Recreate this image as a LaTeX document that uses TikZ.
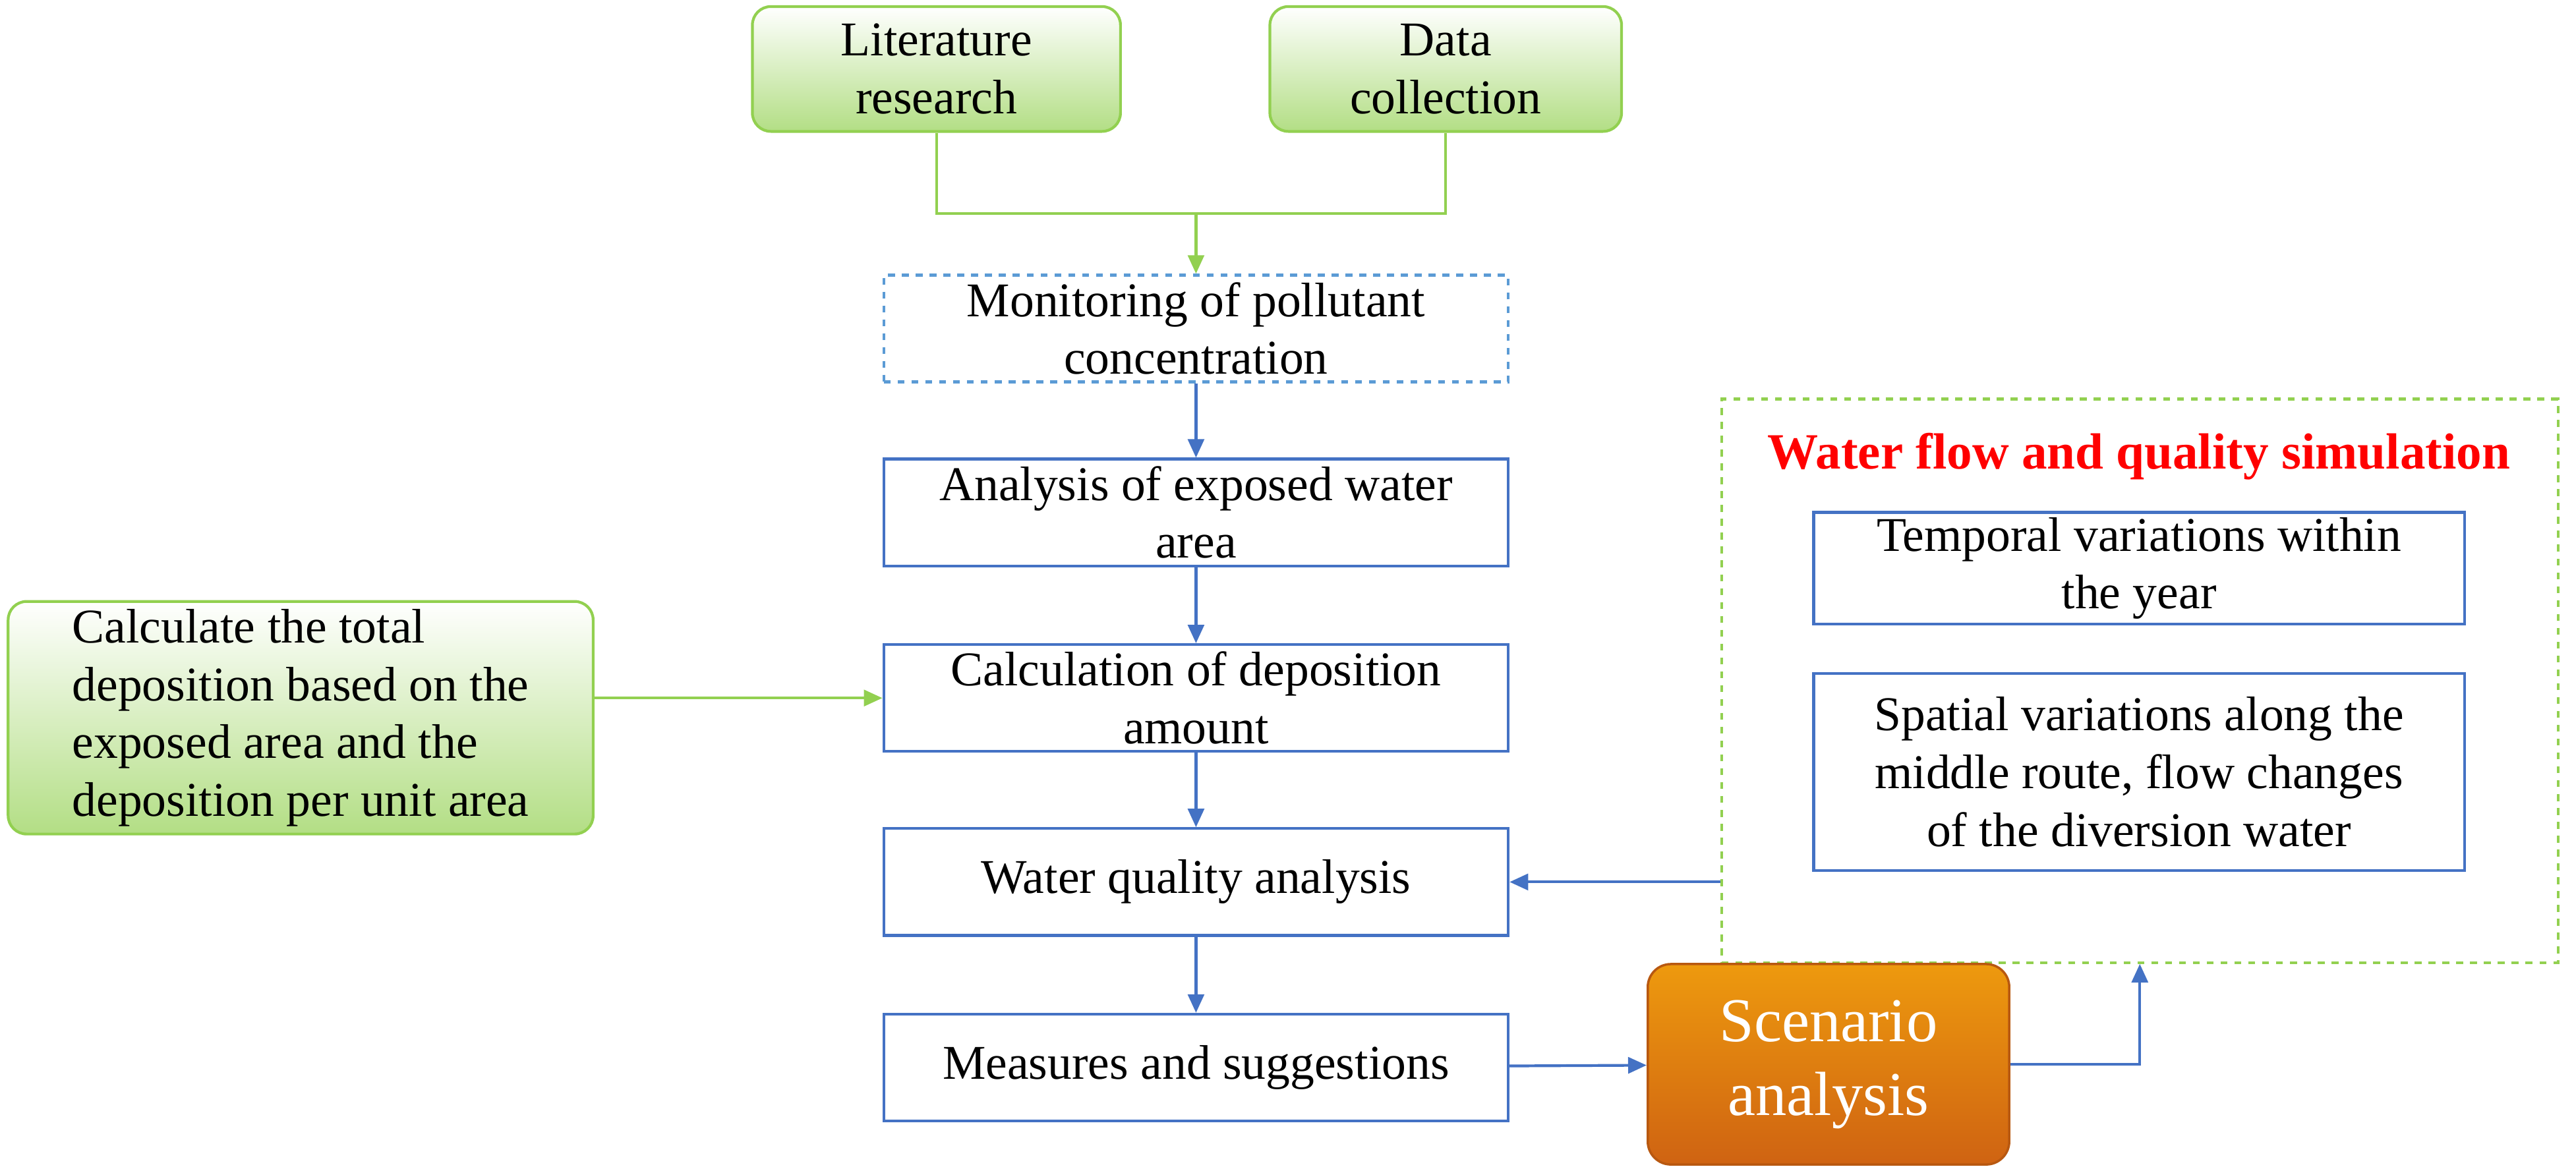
\documentclass[tikz,border=0pt]{standalone}
\usepackage{fontspec}
\setmainfont{Liberation Serif}
\usetikzlibrary{arrows.meta}
\definecolor{boxblue}{RGB}{68,114,196}
\definecolor{dashblue}{RGB}{91,155,213}
\definecolor{lgreen}{RGB}{146,208,80}
\definecolor{orangec}{RGB}{230,110,20}
\begin{document}
\begin{tikzpicture}[x=0.025cm, y=-0.025cm,
    font=\fontsize{21}{25}\selectfont,
    stage/.style={rectangle, draw=boxblue, line width=1.2pt, fill=white, minimum width=9.5cm, minimum height=1.625cm, align=center, inner sep=2pt},
    source/.style={rectangle, rounded corners=8pt, draw=lgreen, line width=1.2pt, top color=white, bottom color=lgreen!70, align=center},
    sim/.style={rectangle, draw=boxblue, line width=1.2pt, minimum width=9.9cm, align=center, inner sep=2pt},
    arrow/.style={-{Triangle[length=8pt,width=7pt]}, line width=1.2pt, boxblue},
    garrow/.style={-{Triangle[length=8pt,width=7pt]}, line width=1.2pt, lgreen}
    ]
    \useasboundingbox (0,0) rectangle (1568,714);

    % sources
    \node (lit) [source, minimum width=5.6cm, minimum height=1.9cm] at (570,42) {Literature\\research};
    \node (data) [source, minimum width=5.35cm, minimum height=1.9cm] at (880,42) {Data\\collection};
    \node (total) [source, minimum width=8.9cm, minimum height=3.5cm, align=left] at (183,437)
        {Calculate the total\\deposition based on the\\exposed area and the\\deposition per unit area};

    % main chain
    \node (monitor) [stage, dashed, draw=dashblue] at (728,200) {Monitoring of pollutant\\concentration};
    \node (exposed) [stage] at (728,312) {Analysis of exposed water\\area};
    \node (calc) [stage] at (728,425) {Calculation of deposition\\amount};
    \node (quality) [stage] at (728,537) {Water quality analysis};
    \node (measures) [stage] at (728,650) {Measures and suggestions};

    % simulation
    \node (simbox) [draw=lgreen, dashed, line width=1.2pt, minimum width=12.725cm, minimum height=8.575cm] at (1302.5,414.5) {};
    \node (simtitle) [text=red, font=\fontsize{22}{26}\selectfont\bfseries] at (1302,278) {Water flow and quality simulation};
    \node (temporal) [sim, minimum height=1.7cm] at (1302,346) {Temporal variations within\\the year};
    \node (spatial) [sim, minimum height=3cm] at (1302,470) {Spatial variations along the\\middle route, flow changes\\of the diversion water};
    \node (scenario) [rectangle, rounded corners=10pt, draw=orangec!80!black, line width=1pt, top color=orangec!70!yellow, bottom color=orangec!90!black, text=white, minimum width=5.5cm, minimum height=3.05cm, align=center, font=\fontsize{27}{32}\selectfont] at (1113,648) {Scenario\\analysis};

    \coordinate (join) at (728,130);
    \draw[lgreen, line width=1.2pt] (lit.south) |- (join) -| (data.south);
    \draw[garrow] (join) -- (monitor.north);
    \draw[garrow] (total.east |- calc.west) -- (calc.west);

    \draw[arrow] (monitor) -- (exposed);
    \draw[arrow] (exposed) -- (calc);
    \draw[arrow] (calc) -- (quality);
    \draw[arrow] (quality) -- (measures);
    \draw[arrow] (simbox.west |- quality.east) -- (quality.east);
    \draw[arrow] (measures) -- (scenario);
    \draw[arrow] (scenario.east) -| (simbox.south);

\end{tikzpicture}
\end{document}
